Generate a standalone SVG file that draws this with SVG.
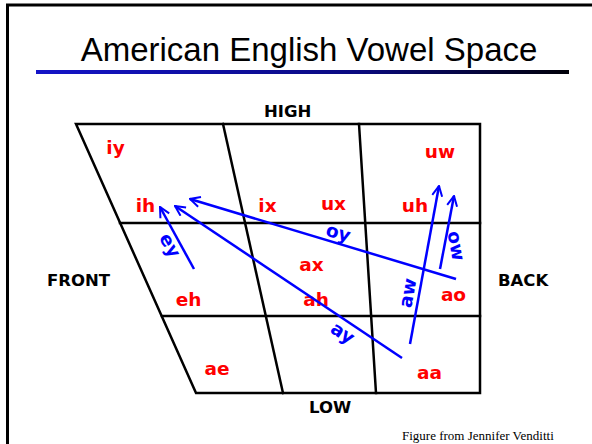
<svg xmlns="http://www.w3.org/2000/svg" width="592" height="444" viewBox="0 0 592 444">
<defs>
<linearGradient id="bar" x1="0" y1="0" x2="1" y2="0">
<stop offset="0" stop-color="#1414c8"/>
<stop offset="0.6" stop-color="#0a0a80"/>
<stop offset="1" stop-color="#000008"/>
</linearGradient>
<marker id="arr" viewBox="0 0 12 12" refX="11" refY="6" markerWidth="12" markerHeight="12" markerUnits="userSpaceOnUse" orient="auto">
<path d="M1,1 L11,6 L1,11" fill="none" stroke="#0000ff" stroke-width="2"/>
</marker>
<style>
.grid{stroke:#000;stroke-width:2.5;fill:none;stroke-linecap:square}
.axis{font-family:"DejaVu Sans",sans-serif;font-weight:bold;font-size:16.5px;fill:#000}
.v{font-family:"DejaVu Sans",sans-serif;font-weight:bold;font-size:18.5px;fill:#ff0000;text-anchor:middle}
.d{font-family:"DejaVu Sans",sans-serif;font-weight:bold;font-size:18.5px;fill:#0000ff;text-anchor:middle}
.arrow{stroke:#0000ff;stroke-width:2.5;fill:none;marker-end:url(#arr)}
</style>
</defs>
<rect width="592" height="444" fill="#fff"/>
<g id="frame">
<path d="M7.5,444 L7.5,5 L592,5" fill="none" stroke="#000" stroke-width="3"/>
<text x="309" y="61" font-family="'Liberation Sans',Arial,sans-serif" font-size="33" text-anchor="middle" fill="#000">American English Vowel Space</text>
<rect x="36" y="70" width="533" height="4" fill="url(#bar)"/>
</g>
<g id="chart">
<path class="grid" d="M76,124 L480,124 L480,393 L196,393 Z"/>
<line class="grid" x1="120" y1="223" x2="480" y2="223"/>
<line class="grid" x1="162" y1="316" x2="480" y2="316"/>
<line class="grid" x1="223" y1="124" x2="283" y2="393"/>
<line class="grid" x1="359" y1="124" x2="376" y2="393"/>
</g>
<g id="axes">
<text class="axis" x="264" y="117">HIGH</text>
<text class="axis" x="47" y="286">FRONT</text>
<text class="axis" x="498" y="286">BACK</text>
<text class="axis" x="309" y="413">LOW</text>
</g>
<g id="vowels">
<text class="v" x="115.5" y="154">iy</text>
<text class="v" x="145.5" y="212">ih</text>
<text class="v" x="267.5" y="212">ix</text>
<text class="v" x="333.5" y="210">ux</text>
<text class="v" x="415" y="212">uh</text>
<text class="v" x="440" y="158">uw</text>
<text class="v" x="188.5" y="306">eh</text>
<text class="v" x="217" y="375">ae</text>
<text class="v" x="311.5" y="271">ax</text>
<text class="v" x="316" y="306">ah</text>
<text class="v" x="453.5" y="301">ao</text>
<text class="v" x="429.5" y="379">aa</text>
</g>
<g id="connectors">
<line class="arrow" x1="194" y1="269" x2="160" y2="207"/>
<line class="arrow" x1="402" y1="358" x2="175" y2="206"/>
<line class="arrow" x1="456" y1="279" x2="190" y2="199"/>
<line class="arrow" x1="410" y1="344" x2="439" y2="186"/>
<line class="arrow" x1="440" y1="269" x2="454" y2="196"/>
</g>
<g id="diphthongs">
<text class="d" transform="translate(169,246) rotate(62)" y="5">ey</text>
<text class="d" transform="translate(342,334) rotate(34)" y="5">ay</text>
<text class="d" transform="translate(338,234) rotate(17)" y="5">oy</text>
<text class="d" transform="translate(409,293) rotate(-80)" y="5">aw</text>
<text class="d" transform="translate(455,246) rotate(80)" y="5">ow</text>
</g>
<text x="402" y="440" font-family="'Liberation Serif','Times New Roman',serif" font-size="13" fill="#000">Figure from Jennifer Venditti</text>
</svg>
